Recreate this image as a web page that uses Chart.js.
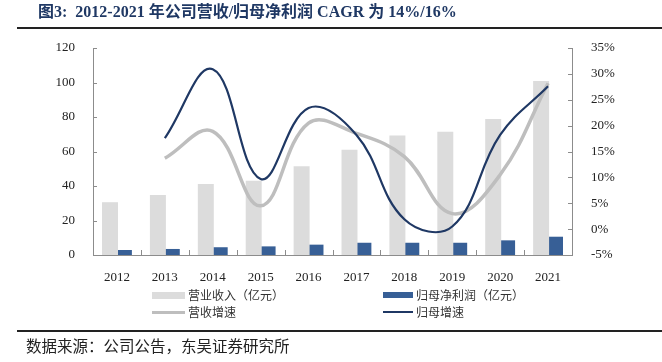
<!DOCTYPE html>
<html>
<head>
<meta charset="utf-8">
<script src="https://cdn.jsdelivr.net/npm/chart.js@4/dist/chart.umd.min.js"></script>
<style>
  html, body { margin: 0; padding: 0; background: #ffffff; }
  #wrap { position: relative; width: 662px; height: 362px; overflow: hidden; background: #fff; }
  #c { position: absolute; left: 0; top: 0; }
  #title { position: absolute; left: 38px; top: 3px; font: bold 16px "Liberation Serif", "Noto Sans CJK SC", serif; color: #1F3864; white-space: nowrap; line-height: 18px; }
  .rule { position: absolute; left: 17px; width: 645px; height: 2px; background: #222; }
  #source { position: absolute; left: 26px; top: 336px; font: 15.5px "Noto Sans CJK SC", sans-serif; color: #222; white-space: nowrap; line-height: 18px; }
  .lg { position: absolute; font: 12px "Noto Sans CJK SC", sans-serif; color: #333; white-space: nowrap; line-height: 14px; }
  .sw { position: absolute; }
</style>
</head>
<body>
<div id="wrap">
  <canvas id="c" width="662" height="362"></canvas>
  <div id="title">图3:&nbsp; 2012-2021 年公司营收/归母净利润 CAGR 为 14%/16%</div>
  <div class="rule" style="top:27px"></div>
  <div class="rule" style="top:330px"></div>
  <div id="source">数据来源：公司公告，东吴证券研究所</div>
  <div id="legend"></div>
</div>
<script>
const years = ['2012','2013','2014','2015','2016','2017','2018','2019','2020','2021'];
const revenue = [30.6, 34.8, 41.2, 43.0, 51.5, 61.0, 69.3, 71.4, 78.8, 100.8];
const netProfit = [2.9, 3.5, 4.5, 5.0, 6.0, 7.1, 7.1, 7.1, 8.5, 10.6];
const revenueGrowth = [null, 13.7, 18.9, 4.5, 20.5, 18.5, 14.0, 3.0, 10.5, 28.2];
const profitGrowth = [null, 17.6, 30.9, 9.7, 23.4, 18.2, 1.9, 0.5, 18.2, 27.6];
const leftTicks = [0, 20, 40, 60, 80, 100, 120];
const rightTicks = [-5, 0, 5, 10, 15, 20, 25, 30, 35];

const C_BAR_GRAY = '#DCDCDC';
const C_BAR_NAVY = '#375F96';
const C_LINE_GRAY = '#BEBEBE';
const C_LINE_NAVY = '#1F3864';
const AXIS = '#8c8c8c';
const tickFont = { family: '"Liberation Serif", "Times New Roman", serif', size: 13 };

const tickPlugin = {
  id: 'innerTicks',
  afterDraw(chart) {
    const ctx = chart.ctx;
    const { x, y, y1 } = chart.scales;
    const area = chart.chartArea;
    ctx.save();
    ctx.strokeStyle = AXIS;
    ctx.lineWidth = 1;
    ctx.beginPath();
    y.ticks.forEach((t, i) => {
      const py = Math.round(y.getPixelForTick(i)) + 0.5;
      ctx.moveTo(area.left, py); ctx.lineTo(area.left + 4, py);
    });
    y1.ticks.forEach((t, i) => {
      const py = Math.round(y1.getPixelForTick(i)) + 0.5;
      ctx.moveTo(area.right - 4, py); ctx.lineTo(area.right, py);
    });
    for (let i = 1; i < x.ticks.length; i++) {
      const px = Math.round((x.getPixelForTick(i - 1) + x.getPixelForTick(i)) / 2) + 0.5;
      ctx.moveTo(px, area.bottom - 5); ctx.lineTo(px, area.bottom);
    }
    ctx.stroke();
    ctx.restore();
  }
};

const datasets = [
  { type: 'bar', label: '营业收入（亿元）', data: revenue, backgroundColor: C_BAR_GRAY, yAxisID: 'y', order: 2,
    categoryPercentage: 0.58, barPercentage: 1.15 },
  { type: 'bar', label: '归母净利润（亿元）', data: netProfit, backgroundColor: C_BAR_NAVY, yAxisID: 'y', order: 2,
    categoryPercentage: 0.58, barPercentage: 1.15 },
  { type: 'line', label: '营收增速', data: revenueGrowth, borderColor: C_LINE_GRAY, borderWidth: 3.5, yAxisID: 'y1',
    pointRadius: 0, tension: 0.4, fill: false, order: 1 },
  { type: 'line', label: '归母增速', data: profitGrowth, borderColor: C_LINE_NAVY, borderWidth: 2.2, yAxisID: 'y1',
    pointRadius: 0, tension: 0.4, fill: false, order: 0 }
];

const chart = new Chart(document.getElementById('c'), {
  data: { labels: years, datasets },
  options: {
    responsive: false,
    animation: false,
    devicePixelRatio: 1,
    layout: { padding: { top: 48, bottom: 77, left: 0, right: 0 } },
    plugins: { legend: { display: false }, tooltip: { enabled: false } },
    scales: {
      x: {
        grid: { display: false },
        border: { display: true, color: AXIS, width: 1 },
        ticks: { font: tickFont, color: '#222', padding: 7, maxRotation: 0 },
        afterFit(s) { s.height = 30; }
      },
      y: {
        position: 'left', min: 0, max: 120,
        afterBuildTicks(s) { s.ticks = leftTicks.map(v => ({ value: v })); },
        grid: { display: false },
        border: { display: true, color: AXIS, width: 1 },
        ticks: { font: tickFont, color: '#222', padding: 10 },
        afterFit(s) { s.width = 93; }
      },
      y1: {
        position: 'right', min: -5, max: 35,
        afterBuildTicks(s) { s.ticks = rightTicks.map(v => ({ value: v })); },
        grid: { display: false },
        border: { display: true, color: AXIS, width: 1 },
        ticks: { font: tickFont, color: '#222', padding: 11, callback: v => v + '%' },
        afterFit(s) { s.width = 90; }
      }
    }
  },
  plugins: [tickPlugin]
});

// HTML legend built from the chart's datasets (2 x 2 grid)
const legendSlots = [
  { ds: 0, left: 152, top: 288, kind: 'box', w: 33, h: 7 },
  { ds: 1, left: 383, top: 288, kind: 'box', w: 30, h: 6 },
  { ds: 2, left: 152, top: 305, kind: 'line', w: 33, h: 3 },
  { ds: 3, left: 383, top: 305, kind: 'line', w: 30, h: 2 }
];
const lg = document.getElementById('legend');
legendSlots.forEach(s => {
  const d = chart.data.datasets[s.ds];
  const sw = document.createElement('div');
  sw.className = 'sw';
  sw.style.left = s.left + 'px';
  sw.style.width = s.w + 'px';
  sw.style.height = s.h + 'px';
  sw.style.top = (s.top + 7 - s.h / 2) + 'px';
  sw.style.background = s.kind === 'box' ? d.backgroundColor : d.borderColor;
  lg.appendChild(sw);
  const t = document.createElement('div');
  t.className = 'lg';
  t.style.left = (s.left + s.w + 3) + 'px';
  t.style.top = s.top + 'px';
  t.textContent = d.label;
  lg.appendChild(t);
});
</script>
</body>
</html>
